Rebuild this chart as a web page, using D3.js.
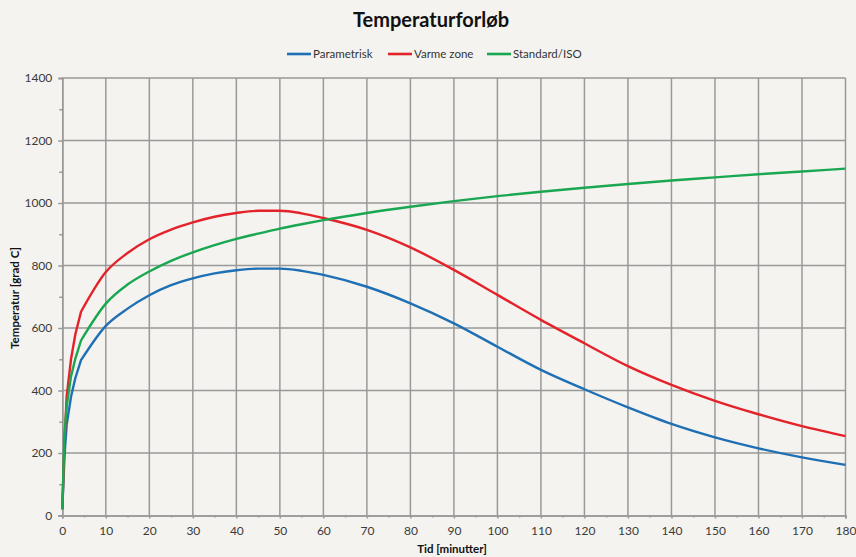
<!DOCTYPE html>
<html>
<head>
<meta charset="utf-8">
<script src="https://cdn.jsdelivr.net/npm/d3@7"></script>
<style>
  html, body { margin: 0; padding: 0; background: #f4f3ef; }
  svg { display: block; }
</style>
</head>
<body>
<svg id="chart" width="856" height="557"></svg>
<script>
// Tid [minutter]
const tid = [0, 0.5, 1, 2, 3, 4.3, 10, 15, 20, 25, 30, 35, 40, 45, 50, 55, 60,
             70, 80, 90, 100, 110, 120, 130, 140, 150, 160, 170, 180];

// Temperatur [grad C] per serie
const parametrisk = [20, 190, 290, 380, 440, 497, 607, 662, 705, 737, 759, 775, 785, 790, 790, 783, 770,
                     732, 679, 615, 540, 466, 404, 346, 293, 250, 215, 186, 162];
const varmeZone   = [20, 230, 380, 500, 580, 652, 779, 840, 884, 915, 938, 956, 968, 975, 975, 967, 952,
                     914, 858, 786, 706, 626, 551, 478, 418, 367, 324, 286, 254];
const standardIso = [20, 261, 349, 445, 502, 560, 678, 739, 781, 815, 842, 865, 885, 902, 918, 932, 945,
                     968, 988, 1006, 1022, 1036, 1049, 1061, 1072, 1082, 1092, 1101, 1110];

const seriesNames = ["Parametrisk", "Varme zone", "Standard/ISO"];
const seriesColors = ["#1f6fb4", "#e3222a", "#1aa751"];
const seriesValues = [parametrisk, varmeZone, standardIso];

const xTicks = d3.range(0, 181, 10);
const yTicks = d3.range(0, 1401, 200);

const svg = d3.select("#chart");
const font = "Lato, 'Open Sans', sans-serif";
const gridColor = "#999999";

const x = d3.scaleLinear().domain([0, 180]).range([62.3, 845.5]);
const y = d3.scaleLinear().domain([0, 1400]).range([515.5, 78]);

// Grid
const grid = svg.append("g");
grid.selectAll(".vg").data(xTicks.slice(1)).join("line")
  .attr("x1", d => x(d)).attr("x2", d => x(d))
  .attr("y1", y(0)).attr("y2", y(1400))
  .attr("stroke", gridColor).attr("stroke-width", 1.5);
grid.selectAll(".hg").data(yTicks.slice(1)).join("line")
  .attr("x1", x(0)).attr("x2", x(180))
  .attr("y1", d => y(d)).attr("y2", d => y(d))
  .attr("stroke", gridColor).attr("stroke-width", 1.5);

// Axes
const xAxis = svg.append("g").attr("transform", `translate(0,${y(0)})`)
  .call(d3.axisBottom(x).tickValues(xTicks).tickSize(3).tickPadding(8).tickFormat(d3.format("d")));
const xMinor = svg.append("g").attr("transform", `translate(0,${y(0)})`)
  .call(d3.axisBottom(x).tickValues(d3.range(5, 180, 10)).tickSize(2).tickFormat(""));
const yAxis = svg.append("g").attr("transform", `translate(${x(0)},0)`)
  .call(d3.axisLeft(y).tickValues(yTicks).tickSize(4).tickPadding(6).tickFormat(d3.format("d")));
const yMinor = svg.append("g").attr("transform", `translate(${x(0)},0)`)
  .call(d3.axisLeft(y).tickValues(d3.range(100, 1400, 200)).tickSize(3).tickFormat(""));

[xAxis, xMinor, yAxis, yMinor].forEach(g => {
  g.select(".domain").attr("stroke", gridColor).attr("stroke-width", 1.5);
  g.selectAll(".tick line").attr("stroke", gridColor).attr("stroke-width", 1.5);
  g.selectAll(".tick text").attr("fill", "#3a3a3a").style("font-family", font).style("font-size", "12px");
});

// Series lines: straight segments through the steep start, smooth afterwards
const splitIdx = tid.indexOf(4.3);
const toPoints = vals => vals.map((v, i) => [tid[i], v]);
const lineStart = d3.line().x(d => x(d[0])).y(d => y(d[1])).curve(d3.curveLinear);
const lineRest = d3.line().x(d => x(d[0])).y(d => y(d[1])).curve(d3.curveMonotoneX);

const seriesG = svg.append("g").selectAll("g").data(seriesValues).join("g");
seriesG.append("path")
  .attr("d", d => {
    const pts = toPoints(d);
    const rest = lineRest(pts.slice(splitIdx));
    return lineStart(pts.slice(0, splitIdx + 1)) + "L" + rest.slice(1);
  })
  .attr("fill", "none")
  .attr("stroke", (d, i) => seriesColors[i])
  .attr("stroke-width", 2.4)
  .attr("stroke-linejoin", "round");

// Title
svg.append("text")
  .attr("x", 431).attr("y", 27)
  .attr("text-anchor", "middle")
  .style("font-family", font).style("font-weight", "bold").style("font-size", "20px")
  .attr("fill", "#111")
  .text("Temperaturforløb");

// Legend
const legendX = [287, 388, 487];
const legend = svg.append("g");
seriesNames.forEach((name, i) => {
  legend.append("line")
    .attr("x1", legendX[i]).attr("x2", legendX[i] + 24)
    .attr("y1", 54).attr("y2", 54)
    .attr("stroke", seriesColors[i]).attr("stroke-width", 2.6);
  legend.append("text")
    .attr("x", legendX[i] + 26).attr("y", 58)
    .style("font-family", font).style("font-size", "11.5px")
    .attr("fill", "#333")
    .text(name);
});

// Axis titles
svg.append("text")
  .attr("x", 452).attr("y", 553)
  .attr("text-anchor", "middle")
  .style("font-family", font).style("font-weight", "bold").style("font-size", "11.5px")
  .attr("fill", "#111")
  .text("Tid [minutter]");

svg.append("text")
  .attr("transform", "translate(19,298) rotate(-90)")
  .attr("text-anchor", "middle")
  .style("font-family", font).style("font-weight", "bold").style("font-size", "11.5px")
  .attr("fill", "#111")
  .text("Temperatur [grad C]");
</script>
</body>
</html>
